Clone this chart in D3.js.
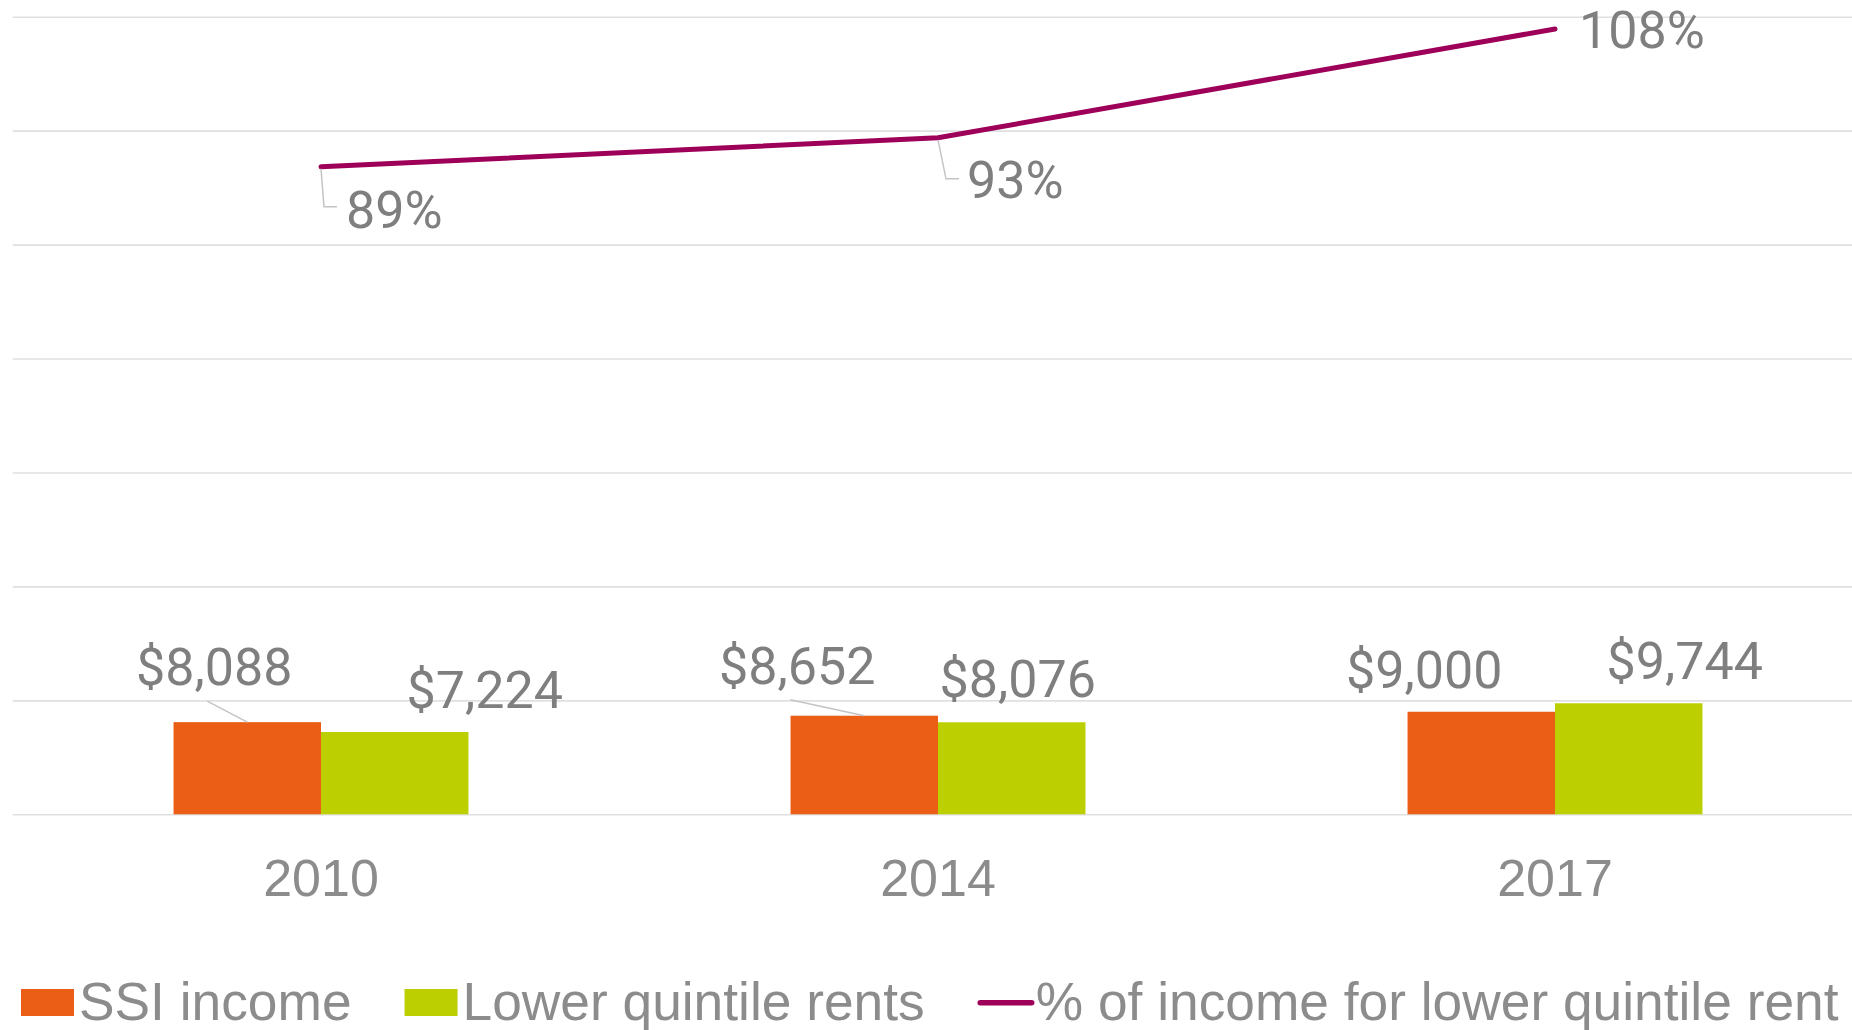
<!DOCTYPE html>
<html>
<head>
<meta charset="utf-8">
<script src="https://cdn.jsdelivr.net/npm/d3@7"></script>
<style>
  body { margin: 0; background: #fff; }
  svg { display: block; }
</style>
</head>
<body>
<div id="chart"></div>
<script>
// data
var years = ["2010", "2014", "2017"];
var series = ["SSI income", "Lower quintile rents"];
var ssiIncome = [8088, 8652, 9000];
var lowerRents = [7224, 8076, 9744];
var pctIncome = [0.893, 0.933, 1.083];
var pctLabels = ["89%", "93%", "108%"];
var lineName = "% of income for lower quintile rent";
var leftTicks = [0, 10000, 20000, 30000, 40000, 50000, 60000, 70000];

// label nudges (the labels were moved by hand in the original)
var ssiLabelOffset = [[-33, -37], [-67, -32], [-57, -24]];
var rentLabelOffset = [[90, -24], [6, -25], [56, -24]];

var W = 1852, H = 1030;
var plotTop = 16.7, base = 814.3, left = 12.7;

var svg = d3.select("#chart")
  .append("svg")
  .attr("width", W)
  .attr("height", H);

var y = d3.scaleLinear().domain([0, 70000]).range([base, plotTop]);
var y2 = d3.scaleLinear().domain([0, 1.1]).range([base, plotTop]);

var x0 = d3.scaleBand().domain(years).range([12.5, 1863.5]).padding(0);
var groupW = x0.bandwidth() * 0.478;
var x1 = d3.scaleBand().domain(series).range([-groupW / 2, groupW / 2]).padding(0);

var color = d3.scaleOrdinal().domain(series).range(["#eb5e16", "#bccf00"]);
var lineColor = "#9e0059";
var labelGrey = "#7f7f7f", axisGrey = "#8c8c8c";

// gridlines
var grid = svg.append("g")
  .attr("transform", "translate(" + left + ",0)")
  .call(d3.axisLeft(y).tickValues(leftTicks).tickSize(-(W - left)).tickFormat(""));
grid.select(".domain").remove();
grid.selectAll("line").attr("stroke", "#e0e0e0").attr("stroke-width", 1.6);

// x axis
var xAxis = svg.append("g")
  .attr("transform", "translate(0," + base + ")")
  .call(d3.axisBottom(x0).tickSize(0));
xAxis.select(".domain").remove();
xAxis.selectAll("text")
  .attr("y", 81.7)
  .attr("dy", null)
  .attr("fill", axisGrey)
  .style("font-family", "'Liberation Sans', Arial, sans-serif")
  .style("font-size", "52px");

// bars
var rows = years.map(function (yr, i) {
  return [
    { year: yr, key: series[0], value: ssiIncome[i], off: ssiLabelOffset[i], leader: true },
    { year: yr, key: series[1], value: lowerRents[i], off: rentLabelOffset[i], leader: false }
  ];
});
var flat = d3.merge(rows);

var cx = function (d) { return x0(d.year) + x0.bandwidth() / 2 + x1(d.key) + x1.bandwidth() / 2; };

svg.append("g")
  .selectAll("rect")
  .data(flat)
  .enter()
  .append("rect")
  .attr("x", function (d) { return x0(d.year) + x0.bandwidth() / 2 + x1(d.key); })
  .attr("y", function (d) { return y(d.value); })
  .attr("width", x1.bandwidth())
  .attr("height", function (d) { return base - y(d.value); })
  .attr("fill", function (d) { return color(d.key); });

// leader lines for the orange labels
svg.append("g")
  .selectAll("line")
  .data(flat.filter(function (d) { return d.leader && d.off[1] < -28; }))
  .enter()
  .append("line")
  .attr("x1", function (d) { return cx(d) + d.off[0] - 7; })
  .attr("y1", function (d) { return y(d.value) + d.off[1] + 16; })
  .attr("x2", function (d) { return cx(d); })
  .attr("y2", function (d) { return y(d.value); })
  .attr("stroke", "#c4c4c4")
  .attr("stroke-width", 1.5);

svg.append("g")
  .selectAll("text")
  .data(flat)
  .enter()
  .append("text")
  .attr("x", function (d) { return cx(d) + d.off[0]; })
  .attr("y", function (d) { return y(d.value) + d.off[1]; })
  .attr("text-anchor", "middle")
  .attr("fill", labelGrey)
  .style("font-family", "Roboto, sans-serif")
  .style("font-size", "52px")
  .text(function (d) { return "$" + d3.format(",")(d.value); });

// line
var pts = years.map(function (yr, i) {
  return { year: yr, value: pctIncome[i], label: pctLabels[i] };
});
var px = function (d) { return x0(d.year) + x0.bandwidth() / 2; };

svg.append("path")
  .datum(pts)
  .attr("d", d3.line().x(px).y(function (d) { return y2(d.value); }))
  .attr("fill", "none")
  .attr("stroke", lineColor)
  .attr("stroke-width", 5)
  .attr("stroke-linecap", "round")
  .attr("stroke-linejoin", "round");

// leaders for the first two percent labels
svg.append("g")
  .selectAll("path")
  .data(pts.slice(0, 2))
  .enter()
  .append("path")
  .attr("d", function (d, i) {
    var x = px(d), yy = y2(d.value);
    var drop = i === 0 ? 40 : 41;
    var slant = i === 0 ? 3 : 8;
    return "M" + x + "," + (yy + 2) + "L" + (x + slant) + "," + (yy + drop) + "L" + (x + slant + 13) + "," + (yy + drop);
  })
  .attr("fill", "none")
  .attr("stroke", "#c4c4c4")
  .attr("stroke-width", 1.5);

var pctOffset = [[25, 61], [29, 60], [24, 19]];
svg.append("g")
  .selectAll("text")
  .data(pts)
  .enter()
  .append("text")
  .attr("x", function (d, i) { return px(d) + pctOffset[i][0]; })
  .attr("y", function (d, i) { return y2(d.value) + pctOffset[i][1]; })
  .attr("fill", labelGrey)
  .style("font-family", "Roboto, sans-serif")
  .style("font-size", "52px")
  .text(function (d) { return d.label; });

// legend
var legend = svg.append("g").attr("transform", "translate(0,1020.3)");
var lx = 21;
var items = [
  { name: series[0], type: "rect", color: color(series[0]) },
  { name: series[1], type: "rect", color: color(series[1]) },
  { name: lineName, type: "line", color: lineColor }
];
items.forEach(function (it) {
  if (it.type === "rect") {
    legend.append("rect")
      .attr("x", lx).attr("y", -31.3)
      .attr("width", 53).attr("height", 27)
      .attr("fill", it.color);
    lx += 53 + 5;
  } else {
    legend.append("line")
      .attr("x1", lx + 2.5).attr("x2", lx + 54)
      .attr("y1", -17.6).attr("y2", -17.6)
      .attr("stroke", it.color)
      .attr("stroke-width", 5.5)
      .attr("stroke-linecap", "round");
    lx += 58;
  }
  var t = legend.append("text")
    .attr("x", lx).attr("y", 0)
    .attr("fill", axisGrey)
    .style("font-family", "'Liberation Sans', Arial, sans-serif")
    .style("font-size", "53.3px")
    .text(it.name);
  lx += t.node().getComputedTextLength() + 53;
});
</script>
</body>
</html>
